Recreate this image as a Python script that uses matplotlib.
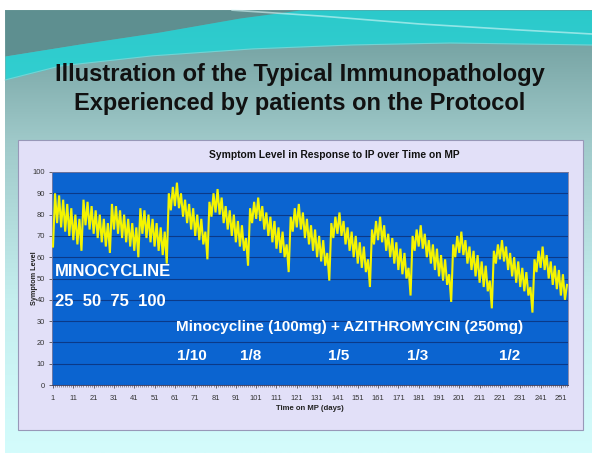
import matplotlib
matplotlib.use("Agg")
import matplotlib.pyplot as plt
import numpy as np

plt.rcParams['font.family'] = ['Liberation Sans', 'DejaVu Sans']

# ---------------- data ----------------
# Minocycline phase: 4 dose steps (25, 50, 75, 100)
mino_25 = [65, 90, 76, 89, 74, 87, 72, 85, 70, 83, 68, 80, 66, 78, 63]
mino_50 = [87, 75, 86, 73, 84, 71, 82, 69, 80, 67, 78, 65, 76, 62]
mino_75 = [85, 73, 84, 71, 82, 69, 80, 67, 78, 65, 76, 63, 74, 60]
mino_100 = [83, 71, 82, 69, 80, 67, 78, 65, 76, 63, 74, 61, 72, 57]
# Minocycline + Azithromycin phase: successive waves
azi_1 = [90, 82, 93, 84, 95, 83, 90, 79, 87, 76, 85, 73, 83, 70, 80, 68, 78, 66, 72, 59]
azi_2 = [86, 79, 90, 81, 92, 80, 88, 76, 84, 73, 82, 70, 80, 67, 77, 65, 75, 63, 69, 56]
azi_3 = [83, 76, 86, 78, 88, 77, 84, 73, 81, 70, 79, 67, 77, 64, 74, 62, 72, 60, 66, 53]
azi_4 = [79, 72, 83, 74, 85, 73, 81, 69, 78, 66, 75, 63, 73, 60, 70, 58, 68, 56, 62, 49]
azi_5 = [76, 69, 79, 71, 81, 70, 77, 66, 74, 63, 72, 60, 70, 57, 67, 55, 65, 53, 59, 46]
azi_6 = [73, 66, 77, 68, 79, 67, 75, 63, 71, 60, 69, 57, 67, 54, 64, 52, 62, 50, 55, 42]
azi_7 = [70, 63, 73, 65, 75, 64, 71, 60, 68, 57, 66, 54, 64, 51, 61, 49, 59, 47, 52, 39]
azi_8 = [66, 60, 70, 62, 72, 61, 68, 57, 65, 54, 63, 51, 61, 48, 58, 46, 56, 44, 49, 36]
azi_9 = [63, 57, 66, 59, 68, 58, 65, 54, 62, 51, 60, 48, 58, 46, 55, 44, 53, 42, 46, 34]
azi_10 = [59, 53, 63, 55, 65, 54, 61, 50, 58, 47, 56, 45, 54, 42, 52, 40, 47]

symptom = (mino_25 + mino_50 + mino_75 + mino_100 + azi_1 + azi_2 + azi_3 + azi_4
           + azi_5 + azi_6 + azi_7 + azi_8 + azi_9 + azi_10)
days = list(range(1, len(symptom) + 1))

x_tick_labels = [str(d) for d in range(1, 252, 10)]
y_ticks = [0, 10, 20, 30, 40, 50, 60, 70, 80, 90, 100]

slide_title = "Illustration of the Typical Immunopathology\nExperienced by patients on the Protocol"
chart_title = "Symptom Level in Response to IP over Time on MP"
dose_labels = ["1/10", "1/8", "1/5", "1/3", "1/2"]
dose_x = [192, 251, 339, 418, 510]

# ---------------- figure ----------------
W, H = 592, 453
fig = plt.figure(figsize=(W / 100, H / 100), dpi=100)
fig.patch.set_facecolor('white')

bg = fig.add_axes([0, 0, 1, 1])
bg.set_xlim(0, W)
bg.set_ylim(H, 0)
bg.axis('off')

# slide gradient background
from matplotlib.colors import LinearSegmentedColormap
cmap = LinearSegmentedColormap.from_list('bgv', [
    (0.0, '#6a9898'), (0.3, '#a0caca'), (0.65, '#c4eeee'), (1.0, '#d4fcfc')])
grad = np.linspace(0, 1, 256).reshape(-1, 1)
bg.imshow(grad, cmap=cmap, extent=[5, W, H, 10], aspect='auto', zorder=0)

# header swoosh
xs = np.linspace(5, W, 200)
upper_left = np.interp(xs, [5, 80, 160, 240, 300, 592], [56, 44, 32, 18, 10, 10])
lower = np.interp(xs, [5, 60, 150, 250, 350, 450, 592], [80, 66, 56, 49, 45, 43, 45])
bg.fill_between(xs, 10, upper_left, color='#5e8f90', zorder=1, lw=0)
bg.fill_between(xs, upper_left, lower, color='#1cd6d8', alpha=0.8, zorder=1, lw=0)
streak = np.interp(xs, [230, 320, 420, 520, 592], [10, 16, 24, 30, 34])
mask = xs >= 230
bg.plot(xs[mask], streak[mask], color='#d8f8f8', lw=1.2, alpha=0.6, zorder=2)
bg.plot(xs, lower, color='#a0d8d8', lw=0.8, alpha=0.6, zorder=2)

bg.text(300, 89, slide_title, ha='center', va='center', fontsize=17,
        fontweight='bold', color='#111111', linespacing=1.3, zorder=3)

# chart box
from matplotlib.patches import Rectangle
bg.add_patch(Rectangle((18, 140), 565, 290, facecolor='#e2e0f8',
                       edgecolor='#9898b8', lw=0.8, zorder=2))
bg.text(334, 155, chart_title, ha='center', va='center', fontsize=7.4,
        fontweight='bold', color='#111111', zorder=3)
bg.text(310, 409, "Time on MP (days)", ha='center', va='center', fontsize=5.6,
        fontweight='bold', color='#222222', zorder=3)
bg.text(34, 278, "Symptom Level", ha='center', va='center', fontsize=5.2,
        fontweight='bold', color='#222222', rotation=90, zorder=3)

# ---------------- plot area ----------------
L, R, T, B = 52, 568, 172, 385
ax = fig.add_axes([L / W, (H - B) / H, (R - L) / W, (B - T) / H])
ax.set_zorder(4)
ax.set_facecolor('#0b64d0')
ax.plot(days, symptom, color='#f4f400', lw=1.5, solid_joinstyle='miter', zorder=3)
ax.set_xlim(0.5, len(symptom) + 0.5)
ax.set_ylim(0, 100)
ax.set_yticks(y_ticks)
ax.set_yticklabels([str(v) for v in y_ticks])
ax.set_xticks(list(range(1, 252, 10)))
ax.set_xticklabels(x_tick_labels)
ax.set_xticks(days, minor=True)
ax.grid(axis='y', color='#0b3a88', lw=0.8, zorder=1)
ax.set_axisbelow(True)
ax.tick_params(axis='both', labelsize=5.4, labelcolor='#333333', color='#333333',
               length=2, width=0.5, pad=3)
ax.tick_params(axis='x', which='minor', length=1.5, width=0.4, color='#555555')
ax.tick_params(axis='x', pad=5)
for s in ax.spines.values():
    s.set_color('#7d7da0')
    s.set_linewidth(0.6)
ax.spines['bottom'].set_color('#333355')

# overlay annotations (white bold text in pixel coords)
def px(x, y):
    return ((x - L) / (R - L), (B - y) / (B - T))

ax.text(*px(55, 271), "MINOCYCLINE", transform=ax.transAxes, ha='left', va='center',
        fontsize=12, fontweight='bold', color='white', zorder=5)
ax.text(*px(55, 302), "25  50  75  100", transform=ax.transAxes, ha='left', va='center',
        fontsize=12, fontweight='bold', color='white', zorder=5)
ax.text(*px(176, 327), "Minocycline (100mg) + AZITHROMYCIN (250mg)", transform=ax.transAxes,
        ha='left', va='center', fontsize=11, fontweight='bold', color='white', zorder=5)
for lab, xx in zip(dose_labels, dose_x):
    ax.text(*px(xx, 356), lab, transform=ax.transAxes, ha='center', va='center',
            fontsize=11, fontweight='bold', color='white', zorder=5)

fig.savefig('out.png', dpi=100)
